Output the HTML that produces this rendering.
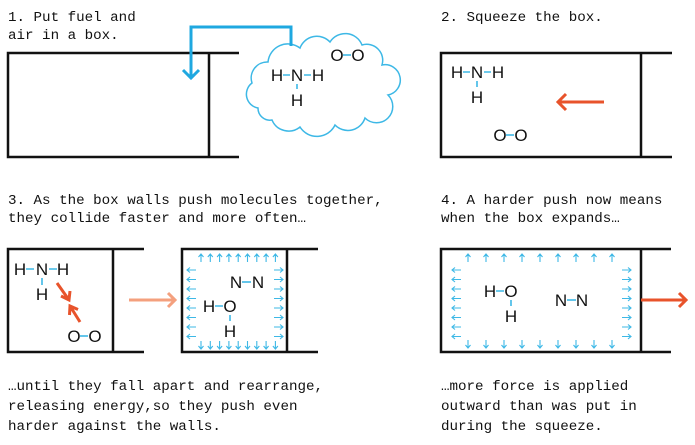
<!DOCTYPE html>
<html><head><meta charset="utf-8"><style>
html,body{margin:0;padding:0;background:#fff;}
svg{display:block}
.t{font-family:"Liberation Mono",monospace;font-size:14.2px;fill:#111}
.m{font-family:"Liberation Sans",sans-serif;font-size:17px;fill:#111;text-anchor:middle}
.b{stroke:#111;stroke-width:2.5;fill:none}
.d{stroke:#3db8e6;stroke-width:1.6}
</style></head><body>
<svg id="s" width="695" height="445" viewBox="0 0 695 445" xmlns="http://www.w3.org/2000/svg">
<text class="t" x="8" y="21">1. Put fuel and</text>
<text class="t" x="8" y="39">air in a box.</text>
<text class="t" x="441" y="21">2. Squeeze the box.</text>
<text class="t" x="8" y="204">3. As the box walls push molecules together,</text>
<text class="t" x="8" y="222">they collide faster and more often…</text>
<text class="t" x="441" y="204">4. A harder push now means</text>
<text class="t" x="441" y="222">when the box expands…</text>
<text class="t" x="8" y="390">…until they fall apart and rearrange,</text>
<text class="t" x="8" y="410">releasing energy,so they push even</text>
<text class="t" x="8" y="430">harder against the walls.</text>
<text class="t" x="441" y="390">…more force is applied</text>
<text class="t" x="441" y="410">outward than was put in</text>
<text class="t" x="441" y="430">during the squeeze.</text>

<!-- panel 1 -->
<path class="b" d="M239,53 H8 V157 H239 M209,53 V157"/>
<path d="M258,108 A14,14 0 0 1 252,83 A16,16 0 0 1 268,62 A20,20 0 0 1 300,48 A18,18 0 0 1 330,42 A18,18 0 0 1 362,45 A16,16 0 0 1 382,65 A15,15 0 0 1 388,95 A16,16 0 0 1 365,118 A18,18 0 0 1 335,125 A20,20 0 0 1 300,127 A18,18 0 0 1 272,120 A12,12 0 0 1 258,108 Z" fill="#fff" stroke="#3db8e6" stroke-width="1.5"/>
<path d="M291,46 V27 H191 V78 M183,70 L191,78 L199,70" fill="none" stroke="#1fa8e0" stroke-width="3"/>
<text class="m" x="277" y="81">H</text><text class="m" x="297" y="81">N</text><text class="m" x="318" y="81">H</text><text class="m" x="297" y="106">H</text>
<path class="d" d="M283,75 H290 M304,75 H311 M297,84 V89"/>
<text class="m" x="337" y="61">O</text><text class="m" x="358" y="61">O</text>
<path class="d" d="M343,55 H351"/>

<!-- panel 2 -->
<path class="b" d="M672,53 H441 V157 H672 M641,53 V157"/>
<text class="m" x="457" y="78">H</text><text class="m" x="477" y="78">N</text><text class="m" x="498" y="78">H</text><text class="m" x="477" y="103">H</text>
<path class="d" d="M463,72 H470 M484,72 H491 M477,81 V87"/>
<text class="m" x="500" y="141">O</text><text class="m" x="521" y="141">O</text>
<path class="d" d="M506,135 H514"/>
<path d="M604,102 H558 M566,94 L558,102 L566,110" fill="none" stroke="#e8532b" stroke-width="3"/>

<!-- panel 3 left -->
<path class="b" d="M144,249 H8 V352 H144 M113,249 V352"/>
<text class="m" x="20" y="275">H</text><text class="m" x="42" y="275">N</text><text class="m" x="63" y="275">H</text><text class="m" x="42" y="300">H</text>
<path class="d" d="M26,269 H34 M49,269 H57 M42,278 V285"/>
<text class="m" x="74" y="342">O</text><text class="m" x="95" y="342">O</text>
<path class="d" d="M80,336 H88"/>
<path d="M57,283 L69,300 M61,296 L69,300 L70,291 M80,322 L70,306 M69.5,315 L70,306 L78,309.5" fill="none" stroke="#e8532b" stroke-width="3"/>
<path d="M129,300 H175 M168,293 L175,300 L168,307" fill="none" stroke="#f4a07e" stroke-width="3"/>

<!-- panel 3 right -->
<path class="b" d="M318,249 H182 V352 H318 M287,249 V352"/>
<text class="m" x="236" y="288">N</text><text class="m" x="258" y="288">N</text>
<path class="d" d="M242,282 H251"/>
<text class="m" x="209" y="312">H</text><text class="m" x="230" y="312">O</text><text class="m" x="230" y="337">H</text>
<path class="d" d="M215,306 H223 M230,315 V321"/>

<!-- panel 4 -->
<path class="b" d="M671,249 H441 V352 H671 M641,249 V352"/>
<text class="m" x="490" y="297">H</text><text class="m" x="511" y="297">O</text><text class="m" x="511" y="322">H</text>
<path class="d" d="M496,291 H504 M511,300 V306"/>
<text class="m" x="561" y="306">N</text><text class="m" x="582" y="306">N</text>
<path class="d" d="M567,300 H576"/>
<path d="M641,300 H686 M679,293 L686,300 L679,307" fill="none" stroke="#e8532b" stroke-width="3"/>
<g id="arr" fill="none" stroke="#3db8e6" stroke-width="1.1"></g>
</svg>
<script>
var g=document.getElementById('arr'),p='';
function up(x,y){p+='M'+x+','+(y+8)+'V'+y+'M'+(x-2.5)+','+(y+3)+'L'+x+','+y+'L'+(x+2.5)+','+(y+3);}
function dn(x,y){p+='M'+x+','+(y-8)+'V'+y+'M'+(x-2.5)+','+(y-3)+'L'+x+','+y+'L'+(x+2.5)+','+(y-3);}
function lf(x,y){p+='M'+(x+9)+','+y+'H'+x+'M'+(x+3)+','+(y-2.5)+'L'+x+','+y+'L'+(x+3)+','+(y+2.5);}
function rt(x,y){p+='M'+(x-9)+','+y+'H'+x+'M'+(x-3)+','+(y-2.5)+'L'+x+','+y+'L'+(x-3)+','+(y+2.5);}
var i;
for(i=0;i<9;i++){up(201+i*9.3,254);dn(201+i*9.3,349);}
for(i=0;i<8;i++){lf(187,270+i*9.5);rt(283,270+i*9.5);}
for(i=0;i<9;i++){up(468+i*18,254);dn(468+i*18,348);}
for(i=0;i<8;i++){lf(452,270+i*9.5);rt(631,270+i*9.5);}
var e=document.createElementNS('http://www.w3.org/2000/svg','path');e.setAttribute('d',p);g.appendChild(e);
</script>
</body></html>
